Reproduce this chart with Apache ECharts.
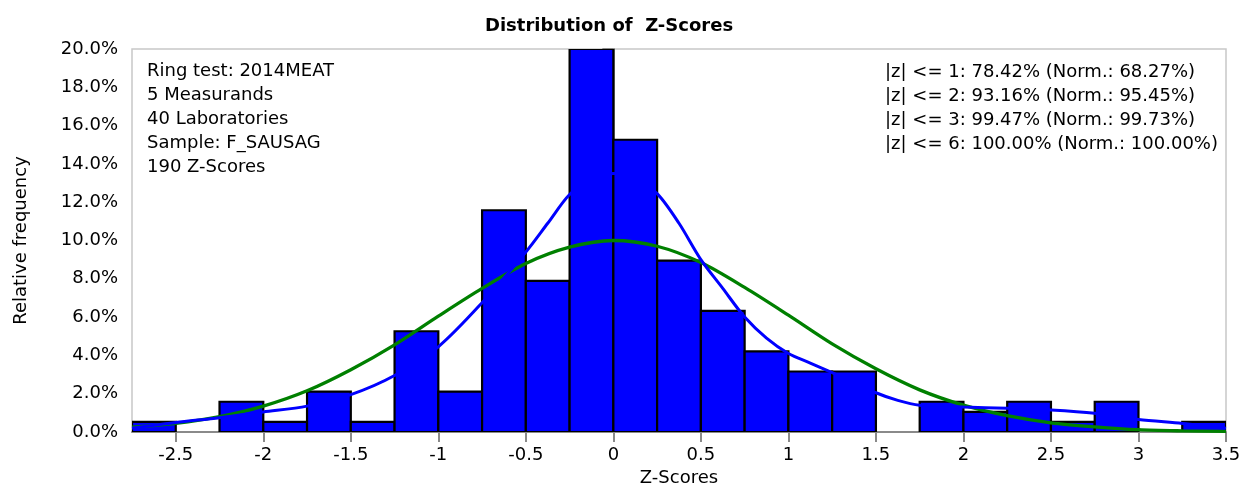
<!DOCTYPE html>
<html>
<head>
<meta charset="utf-8">
<script src="https://cdn.jsdelivr.net/npm/echarts@6/dist/echarts.min.js"></script>
<style>
html,body{margin:0;padding:0;background:#fff;}
#main{width:1240px;height:486px;}
</style>
</head>
<body>
<div id="main"></div>
<script>
// ---- data ----
const binStarts = [-2.75,-2.5,-2.25,-2,-1.75,-1.5,-1.25,-1,-0.75,-0.5,-0.25,0,0.25,0.5,0.75,1,1.25,1.5,1.75,2,2.25,2.5,2.75,3,3.25];
const binWidth = 0.25;
const relFreq = [0.53,0,1.58,0.53,2.11,0.53,5.26,2.11,11.58,7.89,20.0,15.26,8.95,6.32,4.21,3.16,3.16,0,1.58,1.05,1.58,0.53,1.58,0,0.53];

const densX = [-2.75,-2.5,-2.25,-2,-1.75,-1.5,-1.25,-1,-0.75,-0.5,-0.375,-0.25,-0.125,0,0.125,0.25,0.375,0.5,0.625,0.75,0.875,1,1.125,1.25,1.375,1.5,1.625,1.75,2,2.25,2.5,2.75,3,3.25,3.5];
const densY = [0.2,0.5,0.75,1.05,1.35,1.95,2.95,4.45,6.75,9.4,10.9,12.4,13.2,13.5,13.2,12.45,10.9,9.0,7.5,6.0,4.9,4.1,3.6,3.1,2.6,2.05,1.65,1.4,1.3,1.24,1.15,0.98,0.65,0.45,0.2];

const normX = [-2.75,-2.5,-2.25,-2,-1.75,-1.5,-1.25,-1,-0.75,-0.5,-0.25,0,0.25,0.5,0.75,1,1.25,1.5,1.75,2,2.25,2.5,2.75,3,3.25,3.5];
const normY = [0.25,0.45,0.8,1.35,2.15,3.25,4.55,6.05,7.5,8.8,9.65,10.0,9.7,8.85,7.55,6.1,4.6,3.3,2.2,1.4,0.85,0.48,0.27,0.12,0.06,0.03];

const xTicks = [-2.5,-2,-1.5,-1,-0.5,0,0.5,1,1.5,2,2.5,3,3.5];
const titleText = 'Distribution of  Z-Scores';
const infoLines = ['Ring test: 2014MEAT','5 Measurands','40 Laboratories','Sample: F_SAUSAG','190 Z-Scores'];
const statLines = ['|z| <= 1: 78.42% (Norm.: 68.27%)','|z| <= 2: 93.16% (Norm.: 95.45%)','|z| <= 3: 99.47% (Norm.: 99.73%)','|z| <= 6: 100.00% (Norm.: 100.00%)'];

// ---- chart ----
const FONT = 'DejaVu Sans';
const chart = echarts.init(document.getElementById('main'), null, {renderer:'canvas'});

const barData = binStarts.map((s,i)=>[s, s+binWidth, relFreq[i]]);

chart.setOption({
  animation:false,
  backgroundColor:'#ffffff',
  title:{
    text:titleText, left:485, top:17, padding:0,
    textStyle:{fontFamily:FONT, fontSize:18, fontWeight:'bold', color:'#000'}
  },
  grid:{left:132, right:14, top:49, bottom:54, show:true, borderColor:'#c8c8c8', borderWidth:1.5,
        containLabel:false, outerBoundsMode:'none'},
  xAxis:{
    type:'value', min:-2.75, max:3.5,
    name:'Z-Scores', nameLocation:'middle', nameGap:36,
    nameTextStyle:{fontFamily:FONT, fontSize:18, color:'#000'},
    axisLine:{show:true, lineStyle:{color:'#8a8a8a', width:2}},
    axisTick:{show:true, length:10, inside:false, customValues:xTicks, lineStyle:{color:'#8a8a8a', width:2}},
    axisLabel:{show:true, customValues:xTicks, margin:14, fontFamily:FONT, fontSize:18, color:'#000',
      formatter:v=>String(v)},
    splitLine:{show:false}
  },
  yAxis:{
    type:'value', min:0, max:20, interval:2,
    name:'Relative frequency', nameLocation:'middle', nameGap:102, nameRotate:90,
    nameTextStyle:{fontFamily:FONT, fontSize:18, color:'#000'},
    axisLine:{show:true, lineStyle:{color:'#8a8a8a', width:2}},
    axisTick:{show:true, length:11, lineStyle:{color:'#8a8a8a', width:2}},
    axisLabel:{margin:14, fontFamily:FONT, fontSize:18, color:'#000', formatter:v=>v.toFixed(1)+'%'},
    splitLine:{show:false}
  },
  series:[
    {
      type:'custom', name:'hist', clip:true, z:2,
      encode:{x:[0,1], y:2},
      data:barData,
      renderItem:function(params, api){
        const v = api.value(2);
        if(!v) return null;
        const p0 = api.coord([api.value(0), v]);
        const p1 = api.coord([api.value(1), 0]);
        return {
          type:'rect',
          shape:{x:p0[0], y:p0[1], width:p1[0]-p0[0], height:p1[1]-p0[1]},
          style:{fill:'#0000ff', stroke:'#000', lineWidth:2.2}
        };
      }
    },
    {
      type:'line', name:'normal', z:3, smooth:0.3, symbol:'none', clip:true,
      data:normX.map((x,i)=>[x,normY[i]]),
      lineStyle:{color:'#008000', width:3.3}
    },
    {
      type:'line', name:'density', z:4, smooth:0.3, symbol:'none', clip:true,
      data:densX.map((x,i)=>[x,densY[i]]),
      lineStyle:{color:'#0000ff', width:3}
    }
  ],
  graphic:[
    {type:'text', left:147, top:59, z:10, style:{text:infoLines.join('\n'), font:'18px "DejaVu Sans"', lineHeight:24, fill:'#000'}},
    {type:'text', left:885, top:60, z:10, style:{text:statLines.join('\n'), font:'18px "DejaVu Sans"', lineHeight:24, fill:'#000'}}
  ]
});
</script>
</body>
</html>
